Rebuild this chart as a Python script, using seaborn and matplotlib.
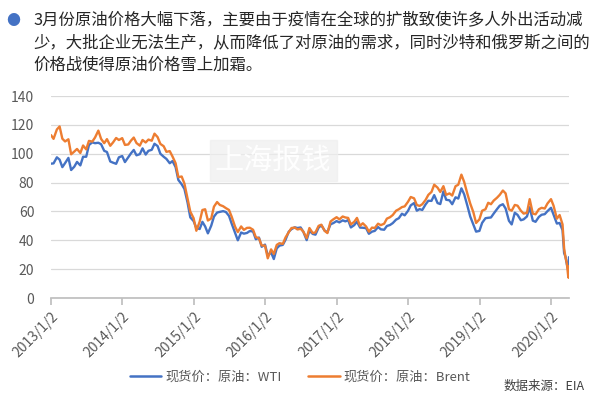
import pandas as pd
import seaborn as sns
import matplotlib.pyplot as plt
from matplotlib.patches import Rectangle

# semi-monthly readings (1st and 15th of each month), 2013-2019
wti_2013 = [93.1, 93.3, 97.5, 95.9, 90.7, 93.5, 97.1, 88.7, 91.0, 94.3, 91.9, 97.9,
            97.9, 106.0, 107.9, 107.3, 107.6, 106.6, 102.0, 101.2, 94.6, 93.8, 93.0, 97.5]
brent_2013 = [112.9, 110.3, 116.8, 118.9, 110.4, 108.5, 110.0, 99.6, 101.5, 103.3, 100.5, 105.7,
              103.0, 108.9, 108.4, 111.2, 116.0, 110.3, 107.3, 110.1, 105.5, 107.8, 110.9, 109.5]
wti_2014 = [98.4, 94.2, 97.5, 100.3, 102.6, 98.9, 99.7, 103.7, 99.4, 102.0, 102.7, 106.9,
            105.3, 100.0, 97.9, 96.4, 93.4, 94.9, 90.7, 81.8, 78.8, 75.6, 66.2, 55.9]
brent_2014 = [110.8, 106.1, 106.4, 109.1, 111.2, 107.4, 105.6, 109.5, 107.8, 109.8, 109.0, 113.9,
              111.5, 106.8, 105.2, 101.3, 101.8, 98.1, 93.4, 83.8, 84.2, 79.3, 69.0, 59.9]
wti_2015 = [53.3, 48.5, 47.8, 52.8, 49.6, 44.8, 50.1, 56.4, 59.2, 59.7, 60.2, 59.6,
            56.9, 51.4, 45.2, 40.0, 45.4, 44.6, 45.1, 46.4, 46.1, 40.7, 41.9, 35.5]
brent_2015 = [55.3, 46.6, 52.9, 61.0, 61.5, 53.7, 55.1, 63.3, 66.5, 64.5, 63.6, 62.3,
              61.0, 56.2, 49.4, 45.7, 49.6, 47.2, 48.6, 48.7, 47.3, 42.2, 41.4, 36.4]
wti_2016 = [37.0, 29.4, 31.6, 27.0, 34.4, 36.3, 36.8, 40.4, 45.9, 47.7, 49.0, 48.5,
            48.9, 45.9, 40.1, 46.6, 44.4, 43.9, 48.8, 50.4, 46.7, 45.6, 51.1, 51.9]
brent_2016 = [36.3, 27.5, 33.7, 30.5, 36.8, 38.0, 37.5, 42.0, 45.5, 48.5, 48.8, 47.5,
              48.0, 46.0, 41.5, 48.5, 45.0, 45.5, 50.0, 50.8, 46.5, 45.0, 53.0, 54.5]
wti_2017 = [53.3, 52.4, 53.8, 53.1, 54.0, 48.9, 50.5, 52.9, 48.8, 48.7, 48.4, 44.5,
            46.0, 46.5, 49.2, 47.6, 47.3, 49.9, 50.6, 51.9, 54.3, 55.3, 58.4, 57.3]
brent_2017 = [56.0, 54.5, 56.5, 55.8, 55.5, 51.0, 52.8, 55.5, 50.0, 51.8, 49.5, 46.0,
              48.8, 48.5, 51.5, 50.5, 51.5, 55.0, 56.0, 57.5, 60.5, 61.5, 63.0, 63.5]
wti_2018 = [60.4, 64.2, 65.8, 60.5, 61.6, 61.0, 64.9, 67.4, 67.3, 71.3, 65.8, 65.1,
            73.9, 68.1, 67.7, 65.0, 69.8, 68.9, 76.0, 71.9, 63.7, 56.5, 51.0, 46.0]
brent_2018 = [66.7, 70.0, 69.1, 64.5, 63.8, 65.0, 68.0, 71.5, 73.5, 78.5, 76.5, 73.5,
              77.5, 71.5, 72.5, 71.0, 77.5, 78.5, 85.5, 80.5, 72.0, 65.5, 59.5, 52.0]
wti_2019 = [46.5, 52.1, 55.3, 55.6, 55.8, 58.5, 61.6, 64.0, 65.0, 62.0, 53.5, 51.0,
            59.1, 57.6, 53.9, 54.5, 56.5, 62.9, 53.6, 52.8, 56.2, 57.7, 58.1, 60.2]
brent_2019 = [54.5, 60.5, 61.5, 66.0, 65.0, 67.5, 69.5, 71.5, 74.5, 72.5, 61.5, 60.5,
              64.5, 64.0, 60.5, 58.5, 59.0, 68.5, 58.5, 58.0, 61.5, 62.5, 62.0, 65.5]

dates_2020 = ["2020-01-02", "2020-01-15", "2020-02-01", "2020-02-15", "2020-03-01",
              "2020-03-09", "2020-03-16", "2020-03-23", "2020-03-30", "2020-04-01", "2020-04-03"]
wti_2020 = [62.5, 57.8, 51.6, 52.0, 47.0, 31.1, 28.7, 23.4, 19.5, 20.3, 28.3]
brent_2020 = [68.5, 64.0, 55.0, 57.5, 51.0, 34.4, 28.2, 24.0, 15.0, 14.0, 22.0]

tick_labels = ["2013/1/2", "2014/1/2", "2015/1/2", "2016/1/2",
               "2017/1/2", "2018/1/2", "2019/1/2", "2020/1/2"]

wti_name = "现货价：原油：WTI"
brent_name = "现货价：原油：Brent"

wti = wti_2013 + wti_2014 + wti_2015 + wti_2016 + wti_2017 + wti_2018 + wti_2019 + wti_2020
brent = (brent_2013 + brent_2014 + brent_2015 + brent_2016 + brent_2017 + brent_2018
         + brent_2019 + brent_2020)
dates = list(pd.date_range("2013-01-01", "2019-12-31", freq="SMS")) + list(pd.to_datetime(dates_2020))
dates[0] = pd.Timestamp("2013-01-02")

df = pd.DataFrame({
    "date": dates * 2,
    "price": wti + brent,
    "series": [wti_name] * len(wti) + [brent_name] * len(brent),
})

sns.set_theme(style="white")
plt.rcParams["font.family"] = ["Noto Sans CJK SC", "DejaVu Sans"]

fig = plt.figure(figsize=(6, 3.96), dpi=100)
ax = fig.add_axes([51 / 600, 1 - 298 / 396, 518 / 600, 202 / 396])

# watermark box
fig.patches.append(Rectangle((210 / 600, 1 - 181 / 396), 127 / 600, 41 / 396,
                             transform=fig.transFigure, color="#efefef", alpha=0.7, zorder=0))
fig.text(273 / 600, 1 - 161 / 396, "上海报钱", color="white", fontsize=21,
         ha="center", va="center", zorder=1, alpha=0.95)

sns.lineplot(data=df, x="date", y="price", hue="series",
             palette={wti_name: "#4472C4", brent_name: "#ED7D31"},
             linewidth=1.7, ax=ax, legend=False, zorder=3)

ax.set_ylim(0, 140)
ax.set_yticks(range(0, 141, 20))
ax.set_xlim(pd.Timestamp("2013-01-02"), pd.Timestamp("2020-04-03"))
ticks = pd.to_datetime([t.replace("/", "-") for t in tick_labels])
ax.set_xticks(ticks)
ax.set_xticklabels(tick_labels, rotation=45, ha="right", rotation_mode="anchor")
ax.set_xlabel("")
ax.set_ylabel("")
ax.set_facecolor("none")

ax.grid(axis="y", color="#d9d9d9", linewidth=0.9)
ax.set_axisbelow(True)
for s in ["left", "right", "top"]:
    ax.spines[s].set_visible(False)
ax.spines["bottom"].set_color("#bfbfbf")
ax.tick_params(axis="x", bottom=True, length=5, color="#bfbfbf", labelsize=10,
               labelcolor="#595959", pad=3)
ax.tick_params(axis="y", left=False, labelsize=10, labelcolor="#595959", pad=6)

# bullet + heading
fig.text(13 / 600, 1 - 21 / 396, "●", color="#4472C4", fontsize=10, ha="center", va="center")
heading = ["3月份原油价格大幅下落，主要由于疫情在全球的扩散致使许多人外出活动减",
           "少，大批企业无法生产，从而降低了对原油的需求，同时沙特和俄罗斯之间的",
           "价格战使得原油价格雪上加霜。"]
for i, line in enumerate(heading):
    fig.text(33 / 600, 1 - (21 + 22 * i) / 396, line, color="#262626", fontsize=11.8,
             ha="left", va="center")

handles = [plt.Line2D([], [], color="#4472C4", linewidth=1.8),
           plt.Line2D([], [], color="#ED7D31", linewidth=1.8)]
fig.legend(handles, [wti_name, brent_name], loc="center", ncol=2,
           bbox_to_anchor=(0.5, 1 - 377 / 396), frameon=False, fontsize=9.5,
           labelcolor="#595959", handlelength=2.4, columnspacing=2.0, handletextpad=0.3)

fig.text(585 / 600, 1 - 386 / 396, "数据来源：EIA", color="#404040", fontsize=9,
         ha="right", va="center", style="italic")

fig.savefig("out.png", dpi=100)
